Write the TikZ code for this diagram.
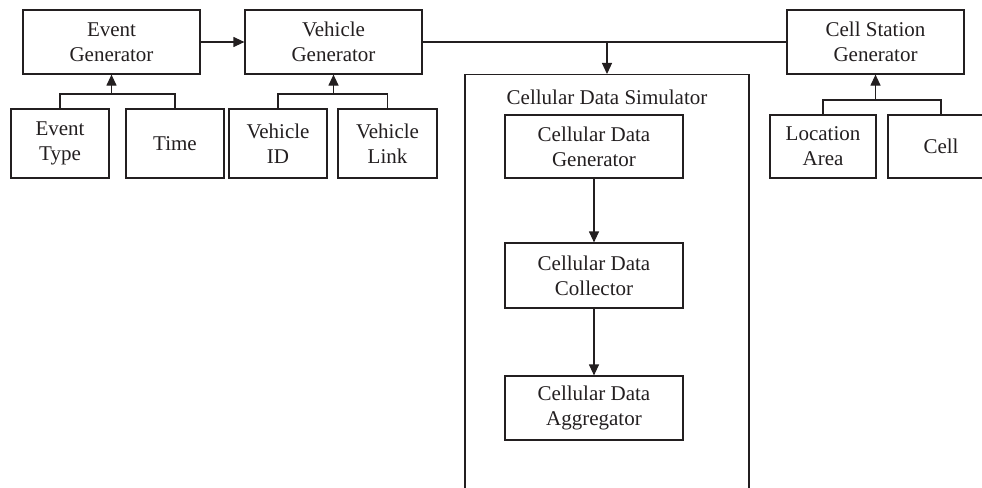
\documentclass[tikz,border=0pt]{standalone}
\usepackage{fontspec}
\setmainfont{Liberation Serif}
\usetikzlibrary{arrows.meta}
\begin{document}
\begin{tikzpicture}[x=1pt,y=-1pt,
  line width=1.2pt, draw={rgb,255:red,35;green,31;blue,32},
  box/.style={draw, rectangle, inner sep=0pt, align=center, text={rgb,255:red,35;green,31;blue,32},
    font=\fontsize{21}{25}\selectfont},
  arr/.style={-{Triangle[length=11pt,width=10pt]}}]
\clip (0,0) rectangle (982,487);
% top row
\node[box, minimum width=177pt, minimum height=64pt] (eg) at (111.5,42) {Event\\Generator};
\node[box, minimum width=177pt, minimum height=64pt] (vg) at (333.5,42) {Vehicle\\Generator};
\node[box, minimum width=177pt, minimum height=64pt] (csg) at (875.5,42) {Cell Station\\Generator};
% inputs
\node[box, minimum width=98pt, minimum height=69pt] (et) at (60,143.5) {Event\\Type};
\node[box, minimum width=98pt, minimum height=69pt] (tm) at (175,143.5) {Time};
\node[box, minimum width=98pt, minimum height=69pt] (vid) at (278,143.5) {Vehicle\\ID};
\node[box, minimum width=99pt, minimum height=69pt] (vl) at (387.5,143.5) {Vehicle\\Link};
\node[box, minimum width=106pt, minimum height=63pt] (la) at (823,146.5) {Location\\Area};
\node[box, minimum width=106pt, minimum height=63pt] (cell) at (941,146.5) {Cell};
% simulator
\node[box, minimum width=284pt, minimum height=440pt, anchor=north] (sim) at (607,74) {};
\node[box, draw=none, anchor=center] (simlbl) at (607,97) {Cellular Data Simulator};
\node[box, minimum width=178pt, minimum height=63pt] (cdg) at (594,146.5) {Cellular Data\\Generator};
\node[box, minimum width=178pt, minimum height=65pt] (cdc) at (594,275.5) {Cellular Data\\Collector};
\node[box, minimum width=178pt, minimum height=64pt] (cda) at (594,408) {Cellular Data\\Aggregator};
% junctions
\coordinate (j1) at (111.5,94);
\coordinate (j2) at (333.5,94);
\coordinate (j3) at (875.5,100);
\coordinate (j4) at (607,42);
% connectors
\draw[arr] (eg.east) -- (vg.west);
\draw (et.north) |- (j1) -| (tm.north);
\draw[arr] (j1) -- (eg.south);
\draw (vid.north) |- (j2) -| (vl.north);
\draw[arr] (j2) -- (vg.south);
\draw (la.north) |- (j3) -| (cell.north);
\draw[arr] (j3) -- (csg.south);
\draw (vg.east) -- (csg.west);
\draw[arr] (j4) -- (sim.north);
\draw[arr] (cdg.south) -- (cdc.north);
\draw[arr] (cdc.south) -- (cda.north);
\end{tikzpicture}
\end{document}
